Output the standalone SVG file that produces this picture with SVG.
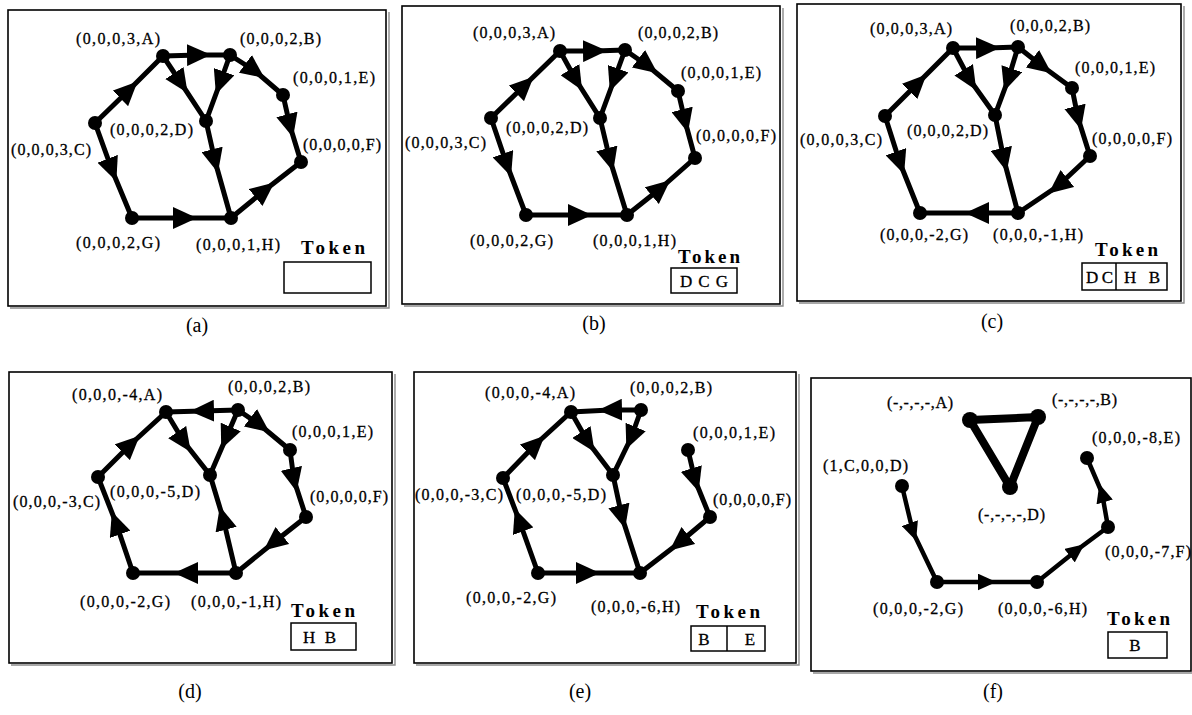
<svg xmlns="http://www.w3.org/2000/svg" width="1192" height="715" viewBox="0 0 1192 715">
<style>
  .frame{fill:#fff;stroke:#000;stroke-width:1.6}
  .shadow{fill:none;stroke:#8a8a8a;stroke-width:1.4}
  .edge{fill:none;stroke:#000;stroke-width:5;stroke-linejoin:round;stroke-linecap:round;marker-mid:url(#arr)}
  .edge-s{fill:none;stroke:#000;stroke-width:4.5;stroke-linejoin:round;stroke-linecap:round;marker-mid:url(#arrs)}
  .tri{fill:none;stroke:#000;stroke-width:8;stroke-linejoin:round}
  .dot{fill:#000}
  .lbl{font-family:"Liberation Serif","Times New Roman",serif;font-size:16px;fill:#000;stroke:#000;stroke-width:0.3}
  .tok{font-family:"Liberation Serif","Times New Roman",serif;font-size:19px;font-weight:bold;fill:#000}
  .cell{font-family:"Liberation Serif","Times New Roman",serif;font-size:17px;fill:#000;stroke:#000;stroke-width:0.3}
  .box{fill:#fff;stroke:#000;stroke-width:1.5}
  .cap{font-family:"Liberation Serif","Times New Roman",serif;font-size:20px;fill:#000;text-anchor:middle}
</style>
<defs>
  <marker id="arr" viewBox="0 0 22 20" refX="11" refY="10" markerWidth="24" markerHeight="22" markerUnits="userSpaceOnUse" orient="auto">
    <path d="M0,0 L22,10 L0,20 Z" fill="#000"/>
  </marker>
  <marker id="arrs" viewBox="0 0 22 20" refX="11" refY="10" markerWidth="19" markerHeight="17" markerUnits="userSpaceOnUse" orient="auto">
    <path d="M0,0 L22,10 L0,20 Z" fill="#000"/>
  </marker>
</defs>
<rect width="1192" height="715" fill="#fff"/>

<!-- ===== (a) ===== -->
<g id="panel-a">
  <polyline class="shadow" points="389,12 389,308 10,308"/>
  <rect class="frame" x="8" y="10" width="378" height="296"/>
  <g id="a-edges">
    <path class="edge" d="M163,56 L199,55 L230,55"/>
    <path class="edge" d="M230,55 L255,71 L283,95"/>
    <path class="edge" d="M283,95 L290,126 L301,162"/>
    <path class="edge" d="M231,218 L265,190 L301,162"/>
    <path class="edge" d="M132,218 L185,218 L231,218"/>
    <path class="edge" d="M95,123 L112,170 L132,218"/>
    <path class="edge" d="M95,123 L129,90 L163,56"/>
    <path class="edge" d="M163,56 L181,83 L206,121"/>
    <path class="edge" d="M230,55 L220,83 L206,121"/>
    <path class="edge" d="M206,121 L215,161 L231,218"/>
  </g>
  <g id="a-A"><circle class="dot" cx="163" cy="56" r="7"/><text class="lbl" x="76" y="44" textLength="84">(0,0,0,3,A)</text></g>
  <g id="a-B"><circle class="dot" cx="230" cy="55" r="7"/><text class="lbl" x="240" y="44" textLength="81">(0,0,0,2,B)</text></g>
  <g id="a-E"><circle class="dot" cx="283" cy="95" r="7"/><text class="lbl" x="293" y="83" textLength="82">(0,0,0,1,E)</text></g>
  <g id="a-D"><circle class="dot" cx="206" cy="121" r="7"/><text class="lbl" x="110" y="135" textLength="83">(0,0,0,2,D)</text></g>
  <g id="a-C"><circle class="dot" cx="95" cy="123" r="7"/><text class="lbl" x="11" y="155" textLength="80">(0,0,0,3,C)</text></g>
  <g id="a-F"><circle class="dot" cx="301" cy="162" r="7"/><text class="lbl" x="303" y="150" textLength="78">(0,0,0,0,F)</text></g>
  <g id="a-G"><circle class="dot" cx="132" cy="218" r="7"/><text class="lbl" x="76" y="248" textLength="84">(0,0,0,2,G)</text></g>
  <g id="a-H"><circle class="dot" cx="231" cy="218" r="7"/><text class="lbl" x="196" y="250" textLength="84">(0,0,0,1,H)</text></g>
  <g id="a-token">
    <text class="tok" x="301" y="254" textLength="64">Token</text>
    <rect class="box" x="284" y="262" width="87" height="31"/>
  </g>
  <text class="cap" x="197" y="332">(a)</text>
</g>

<!-- ===== (b) ===== -->
<g id="panel-b">
  <polyline class="shadow" points="783,8 783,306 404,306"/>
  <rect class="frame" x="402" y="6" width="378" height="298"/>
  <g id="b-edges">
    <path class="edge" d="M560,51 L595,51 L625,50"/>
    <path class="edge" d="M625,50 L648,66 L678,91"/>
    <path class="edge" d="M678,91 L685,121 L695,158"/>
    <path class="edge" d="M627,215 L661,188 L695,158"/>
    <path class="edge" d="M526,215 L580,215 L627,215"/>
    <path class="edge" d="M491,118 L507,165 L526,215"/>
    <path class="edge" d="M491,118 L525,85 L560,51"/>
    <path class="edge" d="M560,51 L576,80 L600,118"/>
    <path class="edge" d="M625,50 L614,80 L600,118"/>
    <path class="edge" d="M600,118 L610,160 L627,215"/>
  </g>
  <g id="b-A"><circle class="dot" cx="560" cy="51" r="7"/><text class="lbl" x="473" y="38" textLength="82">(0,0,0,3,A)</text></g>
  <g id="b-B"><circle class="dot" cx="625" cy="50" r="7"/><text class="lbl" x="638" y="38" textLength="80">(0,0,0,2,B)</text></g>
  <g id="b-E"><circle class="dot" cx="678" cy="91" r="7"/><text class="lbl" x="681" y="78" textLength="80">(0,0,0,1,E)</text></g>
  <g id="b-D"><circle class="dot" cx="600" cy="118" r="7"/><text class="lbl" x="506" y="133" textLength="82">(0,0,0,2,D)</text></g>
  <g id="b-C"><circle class="dot" cx="491" cy="118" r="7"/><text class="lbl" x="405" y="148" textLength="81">(0,0,0,3,C)</text></g>
  <g id="b-F"><circle class="dot" cx="695" cy="158" r="7"/><text class="lbl" x="696" y="141" textLength="80">(0,0,0,0,F)</text></g>
  <g id="b-G"><circle class="dot" cx="526" cy="215" r="7"/><text class="lbl" x="470" y="246" textLength="83">(0,0,0,2,G)</text></g>
  <g id="b-H"><circle class="dot" cx="627" cy="215" r="7"/><text class="lbl" x="593" y="246" textLength="83">(0,0,0,1,H)</text></g>
  <g id="b-token">
    <text class="tok" x="678" y="263" textLength="62">Token</text>
    <rect class="box" x="671" y="268" width="66" height="25"/>
    <text class="cell" x="680" y="287" textLength="48">D C G</text>
  </g>
  <text class="cap" x="594" y="330">(b)</text>
</g>

<!-- ===== (c) ===== -->
<g id="panel-c">
  <polyline class="shadow" points="1184,6 1184,303 799,303"/>
  <rect class="frame" x="797" y="4" width="384" height="297"/>
  <g id="c-edges">
    <path class="edge" d="M953,48 L988,48 L1018,47"/>
    <path class="edge" d="M1018,47 L1042,66 L1072,88"/>
    <path class="edge" d="M1072,88 L1078,118 L1090,156"/>
    <path class="edge" d="M1090,156 L1058,186 L1018,213"/>
    <path class="edge" d="M1018,213 L977,213 L920,213"/>
    <path class="edge" d="M885,116 L900,163 L920,213"/>
    <path class="edge" d="M885,116 L918,83 L953,48"/>
    <path class="edge" d="M953,48 L970,80 L995,115"/>
    <path class="edge" d="M1018,47 L1008,80 L995,115"/>
    <path class="edge" d="M995,115 L1004,160 L1018,213"/>
  </g>
  <g id="c-A"><circle class="dot" cx="953" cy="48" r="7"/><text class="lbl" x="870" y="34" textLength="82">(0,0,0,3,A)</text></g>
  <g id="c-B"><circle class="dot" cx="1018" cy="47" r="7"/><text class="lbl" x="1010" y="31" textLength="80">(0,0,0,2,B)</text></g>
  <g id="c-E"><circle class="dot" cx="1072" cy="88" r="7"/><text class="lbl" x="1075" y="73" textLength="80">(0,0,0,1,E)</text></g>
  <g id="c-D"><circle class="dot" cx="995" cy="115" r="7"/><text class="lbl" x="907" y="136" textLength="81">(0,0,0,2,D)</text></g>
  <g id="c-C"><circle class="dot" cx="885" cy="116" r="7"/><text class="lbl" x="800" y="145" textLength="82">(0,0,0,3,C)</text></g>
  <g id="c-F"><circle class="dot" cx="1090" cy="156" r="7"/><text class="lbl" x="1092" y="144" textLength="80">(0,0,0,0,F)</text></g>
  <g id="c-G"><circle class="dot" cx="920" cy="213" r="7"/><text class="lbl" x="880" y="240" textLength="88">(0,0,0,-2,G)</text></g>
  <g id="c-H"><circle class="dot" cx="1018" cy="213" r="7"/><text class="lbl" x="993" y="240" textLength="90">(0,0,0,-1,H)</text></g>
  <g id="c-token">
    <text class="tok" x="1095" y="256" textLength="63">Token</text>
    <rect class="box" x="1082" y="263" width="85" height="27"/>
    <line x1="1116" y1="263" x2="1116" y2="290" stroke="#000" stroke-width="1.5"/>
    <text class="cell" x="1086" y="283" textLength="27">D C</text>
    <text class="cell" x="1124" y="283" textLength="36">H B</text>
  </g>
  <text class="cap" x="992" y="328">(c)</text>
</g>

<!-- ===== (d) ===== -->
<g id="panel-d">
  <polyline class="shadow" points="395,374 395,665 11,665"/>
  <rect class="frame" x="9" y="372" width="383" height="291"/>
  <g id="d-edges">
    <path class="edge" d="M238,410 L202,411 L166,412"/>
    <path class="edge" d="M238,410 L260,425 L290,450"/>
    <path class="edge" d="M166,412 L184,442 L210,475"/>
    <path class="edge" d="M238,410 L226,438 L210,475"/>
    <path class="edge" d="M290,450 L294,480 L306,517"/>
    <path class="edge" d="M306,517 L273,543 L236,573"/>
    <path class="edge" d="M236,573 L186,573 L133,573"/>
    <path class="edge" d="M133,573 L116,523 L98,477"/>
    <path class="edge" d="M98,477 L131,444 L166,412"/>
    <path class="edge" d="M236,573 L223,518 L210,475"/>
  </g>
  <g id="d-A"><circle class="dot" cx="166" cy="412" r="7"/><text class="lbl" x="72" y="400" textLength="90">(0,0,0,-4,A)</text></g>
  <g id="d-B"><circle class="dot" cx="238" cy="410" r="7"/><text class="lbl" x="228" y="392" textLength="82">(0,0,0,2,B)</text></g>
  <g id="d-E"><circle class="dot" cx="290" cy="450" r="7"/><text class="lbl" x="292" y="437" textLength="81">(0,0,0,1,E)</text></g>
  <g id="d-D"><circle class="dot" cx="210" cy="475" r="7"/><text class="lbl" x="110" y="497" textLength="90">(0,0,0,-5,D)</text></g>
  <g id="d-C"><circle class="dot" cx="98" cy="477" r="7"/><text class="lbl" x="13" y="507" textLength="87">(0,0,0,-3,C)</text></g>
  <g id="d-F"><circle class="dot" cx="306" cy="517" r="7"/><text class="lbl" x="310" y="502" textLength="78">(0,0,0,0,F)</text></g>
  <g id="d-G"><circle class="dot" cx="133" cy="573" r="7"/><text class="lbl" x="80" y="607" textLength="90">(0,0,0,-2,G)</text></g>
  <g id="d-H"><circle class="dot" cx="236" cy="573" r="7"/><text class="lbl" x="191" y="607" textLength="90">(0,0,0,-1,H)</text></g>
  <g id="d-token">
    <text class="tok" x="291" y="617" textLength="64">Token</text>
    <rect class="box" x="291" y="623" width="65" height="27"/>
    <text class="cell" x="303" y="643" textLength="33">H B</text>
  </g>
  <text class="cap" x="190" y="698">(d)</text>
</g>

<!-- ===== (e) ===== -->
<g id="panel-e">
  <polyline class="shadow" points="799,374 799,665 416,665"/>
  <rect class="frame" x="414" y="372" width="382" height="291"/>
  <g id="e-edges">
    <path class="edge" d="M641,410 L610,410 L571,412"/>
    <path class="edge" d="M571,412 L588,442 L613,475"/>
    <path class="edge" d="M641,410 L631,438 L613,475"/>
    <path class="edge" d="M503,478 L536,444 L571,412"/>
    <path class="edge" d="M538,573 L519,520 L503,478"/>
    <path class="edge" d="M538,573 L588,573 L640,573"/>
    <path class="edge" d="M613,475 L622,517 L640,573"/>
    <path class="edge" d="M710,517 L679,543 L640,573"/>
    <path class="edge" d="M688,450 L695,480 L710,517"/>
  </g>
  <g id="e-A"><circle class="dot" cx="571" cy="412" r="7"/><text class="lbl" x="485" y="398" textLength="90">(0,0,0,-4,A)</text></g>
  <g id="e-B"><circle class="dot" cx="641" cy="410" r="7"/><text class="lbl" x="630" y="393" textLength="82">(0,0,0,2,B)</text></g>
  <g id="e-E"><circle class="dot" cx="688" cy="450" r="7"/><text class="lbl" x="693" y="438" textLength="82">(0,0,0,1,E)</text></g>
  <g id="e-C"><circle class="dot" cx="503" cy="478" r="7"/><text class="lbl" x="415" y="500" textLength="88">(0,0,0,-3,C)</text></g>
  <g id="e-D"><circle class="dot" cx="613" cy="475" r="7"/><text class="lbl" x="516" y="500" textLength="90">(0,0,0,-5,D)</text></g>
  <g id="e-F"><circle class="dot" cx="710" cy="517" r="7"/><text class="lbl" x="713" y="505" textLength="78">(0,0,0,0,F)</text></g>
  <g id="e-G"><circle class="dot" cx="538" cy="573" r="7"/><text class="lbl" x="466" y="603" textLength="90">(0,0,0,-2,G)</text></g>
  <g id="e-H"><circle class="dot" cx="640" cy="573" r="7"/><text class="lbl" x="591" y="612" textLength="89">(0,0,0,-6,H)</text></g>
  <g id="e-token">
    <text class="tok" x="696" y="618" textLength="64">Token</text>
    <rect class="box" x="691" y="626" width="74" height="25"/>
    <line x1="727" y1="626" x2="727" y2="651" stroke="#000" stroke-width="1.5"/>
    <text class="cell" x="704" y="645" text-anchor="middle">B</text>
    <text class="cell" x="750" y="645" text-anchor="middle">E</text>
  </g>
  <text class="cap" x="580" y="698">(e)</text>
</g>

<!-- ===== (f) ===== -->
<g id="panel-f">
  <polyline class="shadow" points="1193,380 1193,673 813,673"/>
  <rect class="frame" x="811" y="378" width="380" height="293"/>
  <g id="f-edges">
    <polygon class="tri" points="970,420 1038,417 1010,487"/>
    <path class="edge-s" d="M902,486 L913,532 L937,582"/>
    <path class="edge-s" d="M937,582 L987,582 L1037,582"/>
    <path class="edge-s" d="M1037,582 L1077,550 L1108,527"/>
    <path class="edge-s" d="M1108,527 L1102,493 L1087,458"/>
  </g>
  <g id="f-A"><circle class="dot" cx="970" cy="420" r="8"/><text class="lbl" x="887" y="408" textLength="66">(-,-,-,-,A)</text></g>
  <g id="f-B"><circle class="dot" cx="1038" cy="417" r="8"/><text class="lbl" x="1052" y="405" textLength="65">(-,-,-,-,B)</text></g>
  <g id="f-Dx"><circle class="dot" cx="1010" cy="487" r="8"/><text class="lbl" x="978" y="520" textLength="67">(-,-,-,-,D)</text></g>
  <g id="f-E"><circle class="dot" cx="1087" cy="458" r="7"/><text class="lbl" x="1092" y="443" textLength="88">(0,0,0,-8,E)</text></g>
  <g id="f-D"><circle class="dot" cx="902" cy="486" r="7"/><text class="lbl" x="823" y="471" textLength="85">(1,C,0,0,D)</text></g>
  <g id="f-F"><circle class="dot" cx="1108" cy="527" r="7"/><text class="lbl" x="1105" y="557" textLength="86">(0,0,0,-7,F)</text></g>
  <g id="f-G"><circle class="dot" cx="937" cy="582" r="7"/><text class="lbl" x="873" y="614" textLength="90">(0,0,0,-2,G)</text></g>
  <g id="f-H"><circle class="dot" cx="1037" cy="582" r="7"/><text class="lbl" x="998" y="614" textLength="89">(0,0,0,-6,H)</text></g>
  <g id="f-token">
    <text class="tok" x="1107" y="625" textLength="63">Token</text>
    <rect class="box" x="1108" y="632" width="59" height="26"/>
    <text class="cell" x="1135" y="651" text-anchor="middle">B</text>
  </g>
  <text class="cap" x="993" y="698">(f)</text>
</g>
</svg>
